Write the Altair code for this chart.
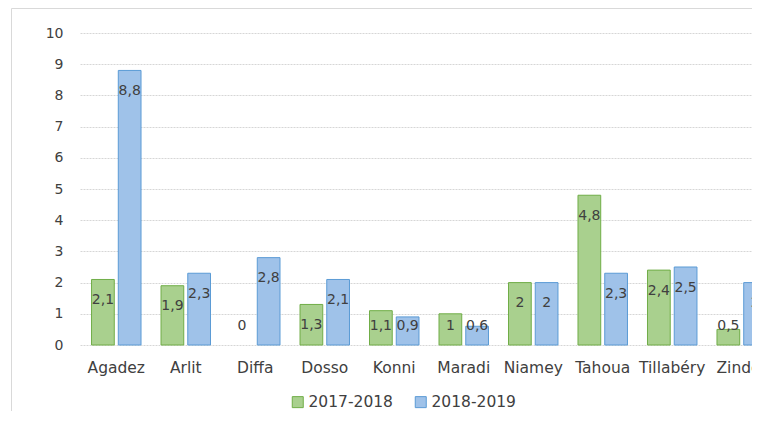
import altair as alt
import pandas as pd

regions = ["Agadez", "Arlit", "Diffa", "Dosso", "Konni", "Maradi", "Niamey", "Tahoua", "Tillabéry", "Zinder"]
series = ["2017-2018", "2018-2019"]
v_2017_2018 = [2.1, 1.9, 0, 1.3, 1.1, 1.0, 2.0, 4.8, 2.4, 0.5]
v_2018_2019 = [8.8, 2.3, 2.8, 2.1, 0.9, 0.6, 2.0, 2.3, 2.5, 2.0]
y_ticks = [0, 1, 2, 3, 4, 5, 6, 7, 8, 9, 10]

fills = ["#a9d08e", "#9fc2e9"]
strokes = ["#70ad47", "#5b9bd5"]

rows = []
for s, vals in zip(series, [v_2017_2018, v_2018_2019]):
    for r, v in zip(regions, vals):
        rows.append({"Région": r, "Année": s, "Valeur": v})
df = pd.DataFrame(rows)

FONT = "DejaVu Sans"
TXT = "#404040"

x_scale = alt.Scale(range=[0, 698], paddingInner=0.288, paddingOuter=0.166)
x_axis = alt.Axis(title=None, labelAngle=0, ticks=False, domain=False,
                  labelFont=FONT, labelFontSize=15.5, labelColor=TXT,
                  labelPadding=15, labelBaseline="top")
y_axis = alt.Axis(title=None, values=y_ticks, tickCount=20, format="d", labelOverlap=False,
                  ticks=False, domain=False,
                  labelFont=FONT, labelFontSize=14, labelColor=TXT, labelPadding=17,
                  grid=True, gridColor="#d6d6d6", gridDash=[2, 1], gridWidth=1)
xoff = alt.XOffset("Année:N", sort=series, scale=alt.Scale(paddingInner=0.15, paddingOuter=0))
y_scale = alt.Scale(domain=[0, 10], nice=False)

base = alt.Chart(df)

bars = base.mark_bar(strokeWidth=1).encode(
    x=alt.X("Région:N", sort=regions, scale=x_scale, axis=x_axis),
    xOffset=xoff,
    y=alt.Y("Valeur:Q", scale=y_scale, axis=y_axis),
    color=alt.Color("Année:N", sort=series, scale=alt.Scale(domain=series, range=fills),
                    legend=alt.Legend(title=None, orient="none", legendX=210, legendY=361,
                                      direction="horizontal", symbolType="square",
                                      symbolSize=121, symbolStrokeWidth=1,
                                      labelFont=FONT, labelFontSize=15.5, labelColor=TXT,
                                      labelOffset=3, columnPadding=20)),
    stroke=alt.Stroke("Année:N", sort=series, scale=alt.Scale(domain=series, range=strokes)),
    strokeOpacity=alt.condition(alt.datum.Valeur == 0, alt.value(0), alt.value(1)),
)

labels = base.transform_calculate(
    pos="max(datum.Valeur - 0.66, 0.62)",
    txt="replace(toString(datum.Valeur), '.', ',')",
).mark_text(font=FONT, fontSize=14, color=TXT, baseline="middle", align="center").encode(
    x=alt.X("Région:N", sort=regions, scale=x_scale, axis=x_axis),
    xOffset=xoff,
    y=alt.Y("pos:Q", scale=y_scale, axis=y_axis),
    text="txt:N",
)

frame_left = alt.Chart(pd.DataFrame({"a": [0]})).mark_rule(color="#d9d9d9", strokeWidth=1).encode(
    x=alt.value(-68.5), y=alt.value(-24.5), y2=alt.value(390))
frame_top = alt.Chart(pd.DataFrame({"a": [0]})).mark_rule(color="#d9d9d9", strokeWidth=1).encode(
    x=alt.value(-68.5), x2=alt.value(700), y=alt.value(-24.5))

chart = alt.layer(bars, labels, frame_left, frame_top).properties(
    width=672, height=312,
    autosize=alt.AutoSizeParams(type="none"),
    padding={"left": 72, "top": 25, "right": 0, "bottom": 66},
).configure_view(stroke=None)

chart.save("out.html", embed_options={"renderer": "svg", "actions": False})
